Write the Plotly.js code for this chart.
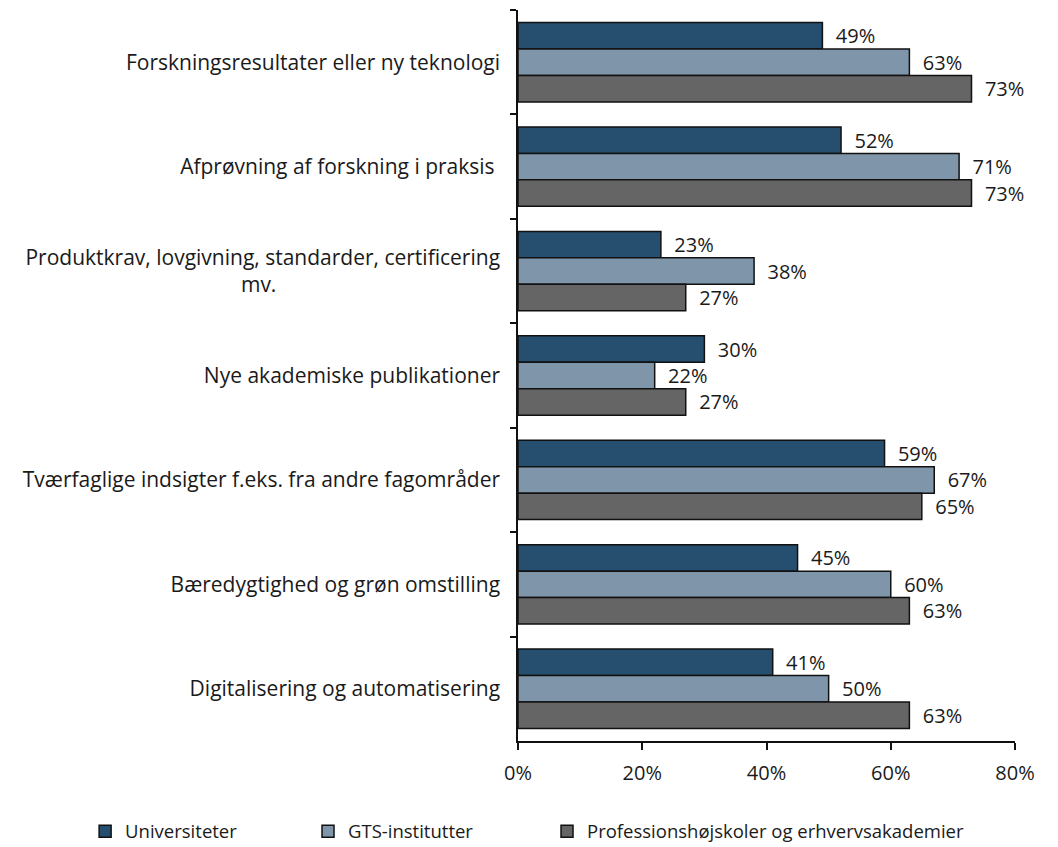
<!DOCTYPE html>
<html>
<head>
<meta charset="utf-8">
<script src="https://cdn.plot.ly/plotly-3.0.1.min.js"></script>
<style>
html,body{margin:0;padding:0;background:#fff;}
#chart{width:1058px;height:847px;}
</style>
</head>
<body>
<div id="chart"></div>
<script>
const NB = "\u00a0";
const categories = [
  "Forskningsresultater eller ny teknologi",
  "Afprøvning af forskning i praksis ",
  "Produktkrav, lovgivning, standarder, certificering<br>mv." + NB.repeat(41),
  "Nye akademiske publikationer",
  "Tværfaglige indsigter f.eks. fra andre fagområder",
  "Bæredygtighed og grøn omstilling",
  "Digitalisering og automatisering"
];
const seriesNames = ["Universiteter", "GTS-institutter", "Professionshøjskoler og erhvervsakademier"];
const universiteter = [49, 52, 23, 30, 59, 45, 41];
const gts = [63, 71, 38, 22, 67, 60, 50];
const professions = [73, 73, 27, 27, 65, 63, 63];
const xTicks = [0, 20, 40, 60, 80];
const xTickLabels = ["0%", "20%", "40%", "60%", "80%"];

const colors = ["#264F6F", "#7F96AA", "#656565"];
const seriesValues = [universiteter, gts, professions];
const legendIds = ["legend", "legend2", "legend3"];
const font = "Open Sans, Liberation Sans, Arial, sans-serif";
const textColor = "#1a1a1a";

const traces = seriesValues.map((vals, i) => ({
  type: "bar",
  orientation: "h",
  name: seriesNames[i],
  y: categories,
  x: vals,
  text: vals.map(v => NB + NB + v + "%"),
  textposition: "outside",
  constraintext: "none",
  cliponaxis: false,
  textfont: {family: font, size: 20, color: textColor},
  marker: {color: colors[i], line: {color: "#111", width: 1.5}},
  legend: legendIds[i],
  hoverinfo: "x+y"
}));

const legendBase = {
  orientation: "h",
  yanchor: "middle",
  y: -0.124,
  xanchor: "left",
  font: {family: font, size: 18.5, color: textColor},
  itemwidth: 30,
  tracegroupgap: 0,
  bgcolor: "rgba(0,0,0,0)"
};

const layout = {
  width: 1058,
  height: 847,
  margin: {l: 518, r: 43, t: 10, b: 106, autoexpand: false},
  paper_bgcolor: "#fff",
  plot_bgcolor: "#fff",
  barmode: "group",
  bargap: 0.24,
  bargroupgap: 0,
  showlegend: true,
  xaxis: {
    range: [0, 80],
    tickvals: xTicks,
    ticktext: xTickLabels,
    showgrid: false,
    zeroline: false,
    showline: true,
    linecolor: "#111",
    linewidth: 1.5,
    ticks: "outside",
    ticklen: 7,
    tickwidth: 1.5,
    tickcolor: "#111",
    ticklabelstandoff: 6,
    tickfont: {family: font, size: 20, color: textColor},
    fixedrange: true
  },
  yaxis: {
    autorange: "reversed",
    showgrid: false,
    zeroline: false,
    showline: true,
    linecolor: "#111",
    linewidth: 1.5,
    ticks: "outside",
    tickson: "boundaries",
    ticklen: 6,
    tickwidth: 1.5,
    tickcolor: "#111",
    ticklabelstandoff: 12,
    tickfont: {family: font, size: 21, color: textColor},
    fixedrange: true
  },
  legend: Object.assign({}, legendBase, {x: -0.871}),
  legend2: Object.assign({}, legendBase, {x: -0.4225}),
  legend3: Object.assign({}, legendBase, {x: 0.0584})
};

Plotly.newPlot("chart", traces, layout, {displayModeBar: false, responsive: false});
</script>
</body>
</html>
